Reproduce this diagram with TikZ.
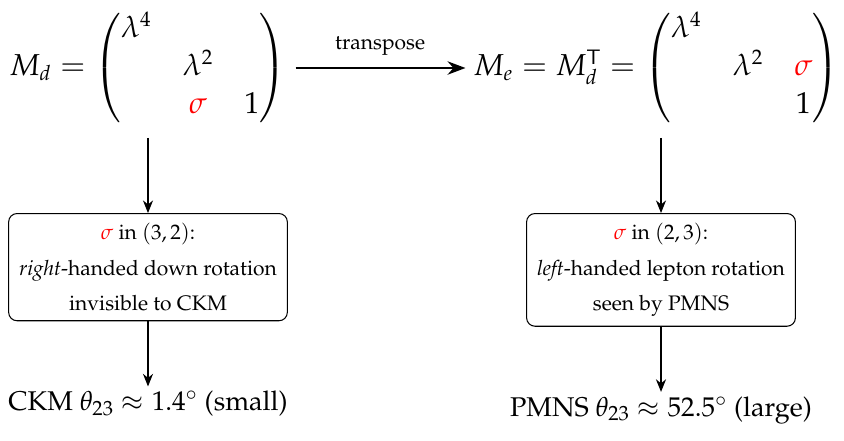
\documentclass[tikz,border=0pt]{standalone}
\usepackage[T1]{fontenc}
\usepackage{amsmath}
\usepackage{mathpazo}
\usetikzlibrary{arrows.meta,positioning}
\begin{document}
\begin{tikzpicture}[x=0.476pt,y=-0.476pt,
  box/.style={draw, rounded corners=4pt, align=center, inner xsep=5pt, inner ysep=4.5pt, line width=0.5pt},
  arr/.style={-{Stealth[length=6pt,width=4.8pt]}, line width=0.5pt},
  tarr/.style={-{Stealth[length=8.5pt,width=6.3pt]}, line width=1.4pt},
  res/.style={font=\fontsize{12.9}{15}\selectfont, inner sep=2pt},
  mat/.style={font=\Large, inner sep=0pt}]
\useasboundingbox (0,0) rectangle (844,440);
\node[mat, anchor=west] (Md) at (9,68)
  {$\setlength\arraycolsep{7.4pt} M_d = \begin{pmatrix} \lambda^4 & & \\ & \lambda^2 & \\ & \textcolor{red}{\sigma} & 1 \end{pmatrix}$};
\node[mat, anchor=east] (Me) at (840,68)
  {$\setlength\arraycolsep{7.4pt} M_e = M_d^{\mathsf{T}} = \begin{pmatrix} \lambda^4 & & \\ & \lambda^2 & \textcolor{red}{\sigma} \\ & & 1 \end{pmatrix}$};
\draw[tarr, shorten <=4pt, shorten >=3.6pt] (Md.east) -- (Me.west)
  node[midway, above=2pt] (tl) {transpose};
\node[box, anchor=north] (bL) at (148,213)
  {\textcolor{red}{$\sigma$} in $(3,2)$:\\[5pt] \textit{right}-handed down rotation\\[5pt] invisible to CKM};
\node[box, anchor=north] (bR) at (661,213)
  {\textcolor{red}{$\sigma$} in $(2,3)$:\\[5pt] \textit{left}-handed lepton rotation\\[5pt] seen by PMNS};
\node[res, below=31pt of bL] (rL) {CKM $\theta_{23} \approx 1.4^\circ$ (small)};
\node[res, below=31pt of bR] (rR) {PMNS $\theta_{23} \approx 52.5^\circ$ (large)};
\draw[arr, shorten <=6pt] (bL.north |- Md.south) -- (bL.north);
\draw[arr, shorten <=6pt] (bR.north |- Me.south) -- (bR.north);
\draw[arr] (bL) -- (rL);
\draw[arr] (bR) -- (rR);
\end{tikzpicture}
\end{document}
